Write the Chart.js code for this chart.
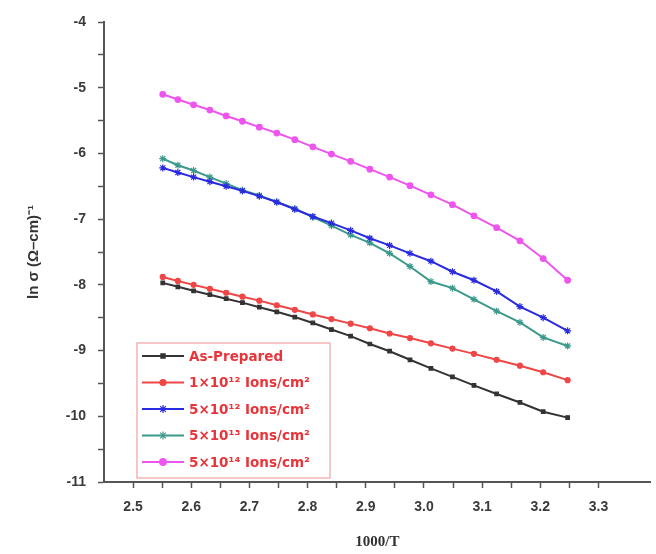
<!DOCTYPE html>
<html>
<head>
<meta charset="utf-8">
<script src="https://cdn.jsdelivr.net/npm/chart.js@4/dist/chart.umd.min.js"></script>
<style>
  html, body { margin: 0; padding: 0; background: #fff; }
  #wrap { width: 656px; height: 554px; position: relative; }
</style>
</head>
<body>
<div id="wrap"><canvas id="chart"></canvas></div>
<script>
// 1000/T values (K^-1 x 1000)
const invT = [2.551, 2.577, 2.604, 2.632, 2.660, 2.688, 2.717, 2.747, 2.778, 2.809, 2.841,
              2.874, 2.907, 2.941, 2.976, 3.012, 3.049, 3.086, 3.125, 3.165, 3.205, 3.247];

// ln sigma for each sample
const asPrepared = [-7.97, -8.03, -8.09, -8.15, -8.21, -8.27, -8.34, -8.41, -8.49, -8.58, -8.68,
                    -8.78, -8.90, -9.01, -9.14, -9.27, -9.40, -9.53, -9.66, -9.79, -9.93, -10.02];
const dose1e12 = [-7.88, -7.94, -8.00, -8.06, -8.12, -8.18, -8.24, -8.31, -8.38, -8.45, -8.52,
                  -8.59, -8.66, -8.74, -8.81, -8.89, -8.97, -9.05, -9.14, -9.23, -9.33, -9.45];
const dose5e12 = [-6.22, -6.29, -6.36, -6.43, -6.50, -6.57, -6.65, -6.74, -6.85, -6.96, -7.06,
                  -7.17, -7.29, -7.40, -7.52, -7.64, -7.80, -7.93, -8.10, -8.33, -8.50, -8.70];
const dose5e13 = [-6.08, -6.18, -6.26, -6.36, -6.46, -6.56, -6.64, -6.74, -6.84, -6.97, -7.10,
                  -7.24, -7.36, -7.52, -7.72, -7.95, -8.05, -8.22, -8.40, -8.57, -8.80, -8.93];
const dose5e14 = [-5.10, -5.18, -5.26, -5.34, -5.43, -5.51, -5.60, -5.69, -5.79, -5.90, -6.01,
                  -6.12, -6.24, -6.36, -6.49, -6.63, -6.78, -6.95, -7.13, -7.33, -7.60, -7.93];

const seriesLabels = ["As-Prepared", "1\u00d710\u00b9\u00b2 Ions/cm\u00b2", "5\u00d710\u00b9\u00b2 Ions/cm\u00b2",
                      "5\u00d710\u00b9\u00b3 Ions/cm\u00b2", "5\u00d710\u00b9\u2074 Ions/cm\u00b2"];

const toPoints = ys => ys.map((y, i) => ({ x: invT[i], y: y }));

function makeSet(label, ys, color, style, radius) {
  return {
    label: label,
    data: toPoints(ys),
    borderColor: color,
    backgroundColor: color,
    borderWidth: 2,
    pointStyle: style,
    pointRadius: radius,
    pointBorderWidth: 1.2,
    pointBackgroundColor: color,
    tension: 0
  };
}

// legend drawn inside the plot, bottom-left, like the original
const insideLegend = {
  id: "insideLegend",
  afterDraw(chart) {
    const ctx = chart.ctx;
    const x0 = 137, y0 = 343, w = 193, h = 135;
    ctx.save();
    ctx.fillStyle = "#fff";
    ctx.fillRect(x0, y0, w, h);
    ctx.strokeStyle = "#f2a0a0";
    ctx.lineWidth = 1.2;
    ctx.strokeRect(x0, y0, w, h);
    ctx.font = "bold 13.5px 'DejaVu Sans', sans-serif";
    ctx.textBaseline = "middle";
    chart.data.datasets.forEach((ds, i) => {
      const y = y0 + 13 + i * 26.5;
      ctx.strokeStyle = ds.borderColor;
      ctx.lineWidth = 2;
      ctx.beginPath();
      ctx.moveTo(x0 + 5, y);
      ctx.lineTo(x0 + 47, y);
      ctx.stroke();
      ctx.fillStyle = ds.borderColor;
      ctx.lineWidth = 1.2;
      Chart.helpers.drawPoint(ctx, {
        pointStyle: ds.pointStyle, radius: ds.pointRadius + 0.5, rotation: 0, borderWidth: 1.2
      }, x0 + 26, y);
      ctx.fillStyle = "#e8343a";
      ctx.fillText(ds.label, x0 + 52, y + 1);
    });
    ctx.restore();
  }
};

const axisColor = "#555";

new Chart(document.getElementById("chart"), {
  type: "line",
  data: {
    datasets: [
      makeSet(seriesLabels[0], asPrepared, "#333333", "rect", 2.5),
      makeSet(seriesLabels[1], dose1e12, "#f04646", "circle", 2.5),
      makeSet(seriesLabels[2], dose5e12, "#2a2ae0", "star", 3.5),
      makeSet(seriesLabels[3], dose5e13, "#3c9a8c", "star", 3.5),
      makeSet(seriesLabels[4], dose5e14, "#ee55ee", "circle", 2.8)
    ]
  },
  plugins: [insideLegend],
  options: {
    responsive: true,
    maintainAspectRatio: false,
    animation: false,
    layout: { padding: { top: 22, right: 2, left: 0, bottom: 0 } },
    plugins: {
      legend: { display: false },
      tooltip: { enabled: false }
    },
    scales: {
      x: {
        type: "linear",
        min: 2.45,
        max: 3.39,
        afterBuildTicks: s => {
          s.ticks = s.ticks.filter(t => t.value > 2.46 && t.value < 3.37 &&
            Math.abs(t.value * 20 - Math.round(t.value * 20)) < 1e-6);
        },
        afterFit: s => { s.height = 72; },
        ticks: {
          stepSize: 0.05,
          autoSkip: false,
          maxRotation: 0,
          color: "#3a3a3a",
          padding: 11,
          font: { family: "'Liberation Sans', Arial, sans-serif", size: 14, weight: "bold" },
          callback: v => (Math.abs(v * 10 - Math.round(v * 10)) < 1e-6 ? v.toFixed(1) : "")
        },
        grid: { drawOnChartArea: false, drawTicks: true, tickLength: 6, color: axisColor, tickWidth: 1.5 },
        border: { color: axisColor, width: 2 },
        title: {
          display: true,
          text: "1000/T",
          color: "#333",
          padding: { top: 0, bottom: 3 },
          font: { family: "'Liberation Serif', 'Times New Roman', serif", size: 15, weight: "bold" }
        }
      },
      y: {
        type: "linear",
        min: -11,
        max: -4,
        afterFit: s => { s.width = 104; },
        ticks: {
          stepSize: 0.5,
          autoSkip: false,
          color: "#3a3a3a",
          padding: 12,
          font: { family: "'Liberation Sans', Arial, sans-serif", size: 14, weight: "bold" },
          callback: v => (Number.isInteger(v) ? String(v) : "")
        },
        grid: { drawOnChartArea: false, drawTicks: true, tickLength: 6, color: axisColor, tickWidth: 1.5 },
        border: { color: axisColor, width: 2 },
        title: {
          display: true,
          text: "ln \u03c3 (\u03a9\u2013cm)\u207b\u00b9",
          color: "#333",
          padding: { top: 25, bottom: 0 },
          font: { family: "'Liberation Sans', Arial, sans-serif", size: 15, weight: "bold" }
        }
      }
    }
  }
});
</script>
</body>
</html>
